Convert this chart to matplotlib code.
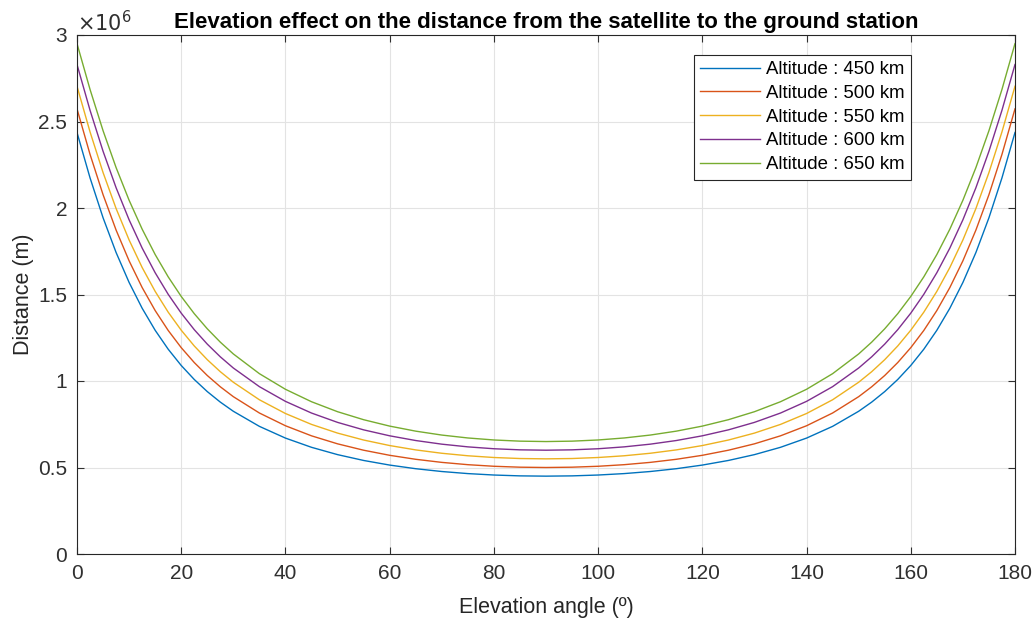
import matplotlib
matplotlib.use("Agg")
import matplotlib.pyplot as plt

plt.rcParams['font.family'] = ['Liberation Sans', 'DejaVu Sans']

# elevation angles (deg)
angle = [0, 2.5, 5, 7.5, 10, 12.5, 15, 17.5, 20, 22.5, 25, 27.5, 30, 35, 40, 45, 50, 55, 60, 65,
         70, 75, 80, 85, 90,
         95, 100, 105, 110, 115, 120, 125, 130, 135, 140, 145, 150, 152.5, 155, 157.5, 160,
         162.5, 165, 167.5, 170, 172.5, 175, 177.5, 180]

# distance in km
d450 = [2436.5, 2174.4, 1943.7, 1742.9, 1569.6, 1420.7, 1293.1, 1183.7, 1089.7, 1008.8, 938.8,
        878.0, 825.0, 737.8, 670.0, 616.7, 574.4, 540.7, 514.0, 493.0, 476.8, 464.8, 456.5,
        451.6, 450.0,
        451.6, 456.5, 464.8, 476.8, 493.0, 514.0, 540.7, 574.4, 616.7, 670.0, 737.8, 825.0,
        878.0, 938.8, 1008.8, 1089.7, 1183.7, 1293.1, 1420.7, 1569.6, 1742.9, 1943.7, 2174.4,
        2436.5]
d500 = [2573.1, 2310.2, 2077.1, 1872.6, 1694.6, 1540.4, 1407.2, 1292.2, 1192.8, 1106.7, 1031.8,
        966.6, 909.4, 815.0, 741.3, 683.1, 636.8, 599.9, 570.5, 547.4, 529.6, 516.3, 507.1,
        501.8, 500.0,
        501.8, 507.1, 516.3, 529.6, 547.4, 570.5, 599.9, 636.8, 683.1, 741.3, 815.0, 909.4,
        966.6, 1031.8, 1106.7, 1192.8, 1292.2, 1407.2, 1540.4, 1694.6, 1872.6, 2077.1, 2310.2,
        2573.1]
d550 = [2703.8, 2440.2, 2205.0, 1997.2, 1815.1, 1656.2, 1518.0, 1397.9, 1293.6, 1202.6, 1123.3,
        1053.8, 992.8, 891.5, 812.1, 749.1, 698.9, 658.8, 626.9, 601.7, 582.3, 567.8, 557.8,
        551.9, 550.0,
        551.9, 557.8, 567.8, 582.3, 601.7, 626.9, 658.8, 698.9, 749.1, 812.1, 891.5, 992.8,
        1053.8, 1123.3, 1202.6, 1293.6, 1397.9, 1518.0, 1656.2, 1815.1, 1997.2, 2205.0, 2440.2,
        2703.8]
d600 = [2829.4, 2565.1, 2328.1, 2117.4, 1931.6, 1768.6, 1625.8, 1501.1, 1392.2, 1296.8, 1213.2,
        1139.8, 1075.1, 967.3, 882.3, 814.8, 760.8, 717.6, 683.2, 655.9, 634.9, 619.3, 608.4,
        602.1, 600.0,
        602.1, 608.4, 619.3, 634.9, 655.9, 683.2, 717.6, 760.8, 814.8, 882.3, 967.3, 1075.1,
        1139.8, 1213.2, 1296.8, 1392.2, 1501.1, 1625.8, 1768.6, 1931.6, 2117.4, 2328.1, 2565.1,
        2829.4]
d650 = [2950.4, 2685.6, 2446.9, 2233.8, 2044.7, 1877.8, 1731.0, 1602.0, 1488.8, 1389.3, 1301.8,
        1224.6, 1156.4, 1042.4, 952.1, 880.2, 822.5, 776.3, 739.3, 710.1, 687.5, 670.7, 659.1,
        652.3, 650.0,
        652.3, 659.1, 670.7, 687.5, 710.1, 739.3, 776.3, 822.5, 880.2, 952.1, 1042.4, 1156.4,
        1224.6, 1301.8, 1389.3, 1488.8, 1602.0, 1731.0, 1877.8, 2044.7, 2233.8, 2446.9, 2685.6,
        2950.4]

series = [d450, d500, d550, d600, d650]
labels = ['Altitude : 450 km', 'Altitude : 500 km', 'Altitude : 550 km',
          'Altitude : 600 km', 'Altitude : 650 km']
colors = ['#0072BD', '#D95319', '#EDB120', '#7E2F8E', '#77AC30']

fig = plt.figure(figsize=(10.33, 6.2), dpi=100)
ax = fig.add_axes([77/1033, 1-554/620, 938/1033, 519/620])

for d, lab, c in zip(series, labels, colors):
    # km -> units of 1e6 m
    ax.plot(angle, [v / 1000 for v in d], color=c, lw=1.0, label=lab)

ax.set_xlim(0, 180)
ax.set_ylim(0, 3)
ax.set_xticks(range(0, 181, 20))
ax.set_yticks([0, 0.5, 1, 1.5, 2, 2.5, 3])
ax.set_yticklabels(['0', '0.5', '1', '1.5', '2', '2.5', '3'])
ax.grid(True, color='#e3e3e3', lw=0.8)
ax.set_axisbelow(True)
ax.tick_params(direction='in', length=5, labelsize=15, colors='#303030',
               top=True, right=True, pad=7)
for s in ax.spines.values():
    s.set_color('#262626')
    s.set_linewidth(0.8)

ax.text(0.0, 1.0, r'$\times10^6$', transform=ax.transAxes, fontsize=15,
        color='#303030', ha='left', va='bottom')

ax.set_xlabel('Elevation angle (º)', fontsize=15.5, color='#262626', labelpad=10)
ax.set_ylabel('Distance (m)', fontsize=15.5, color='#262626', labelpad=3)
ax.set_title('Elevation effect on the distance from the satellite to the ground station',
             fontsize=16, fontweight='bold', pad=5)

leg = ax.legend(loc='upper right', bbox_to_anchor=(0.889, 0.962), fontsize=13.4,
                fancybox=False, edgecolor='#262626', framealpha=1,
                borderaxespad=0, handlelength=3.2, labelspacing=0.36,
                handletextpad=0.3, borderpad=0.35)
leg.get_frame().set_linewidth(0.8)

fig.savefig('out.png', dpi=100)
